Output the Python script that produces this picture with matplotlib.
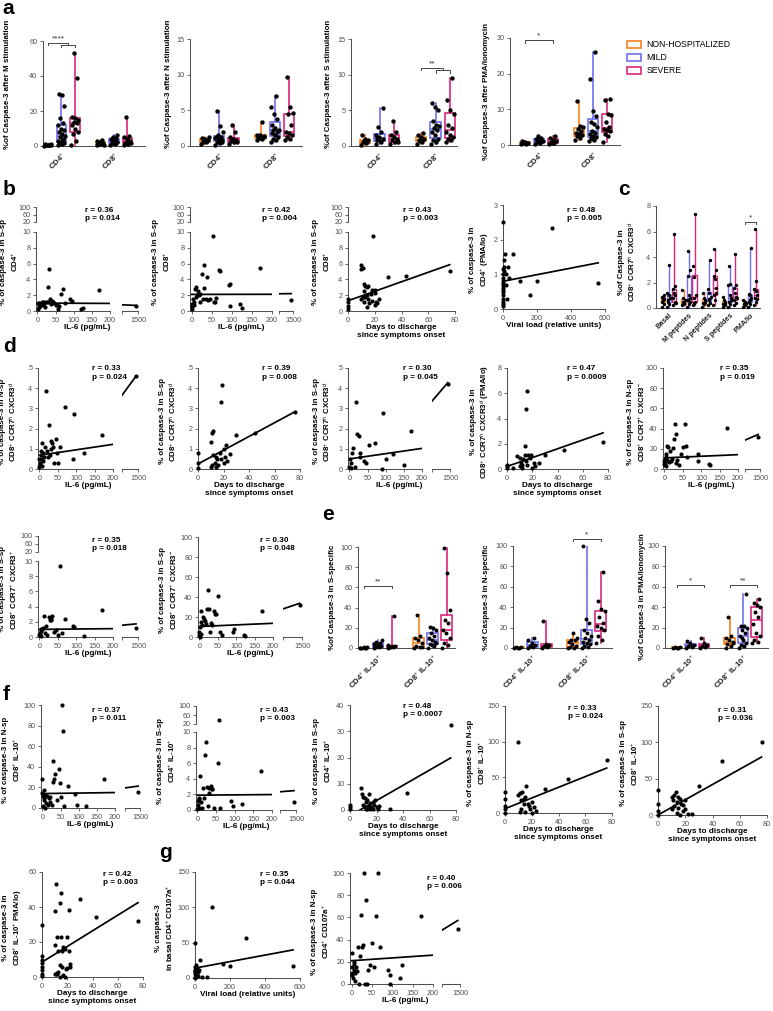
import numpy as np
import matplotlib
matplotlib.use('Agg')
import matplotlib.pyplot as plt
from matplotlib.patches import Patch

plt.rcParams['font.family'] = ['Liberation Sans', 'DejaVu Sans']
plt.rcParams['mathtext.fontset'] = 'custom'
plt.rcParams['mathtext.rm'] = 'Liberation Sans'
plt.rcParams['mathtext.bf'] = 'Liberation Sans:bold'
plt.rcParams['mathtext.it'] = 'Liberation Sans:italic'

W, H = 773, 1011
ORANGE, BLUE, MAGENTA = '#F7821E', '#7070F0', '#D8287A'
COLS = [ORANGE, BLUE, MAGENTA]
AXC = '#505050'
legend_labels = ['NON-HOSPITALIZED', 'MILD', 'SEVERE']

# ---------------- DATA ----------------
a_cats = ['CD4$^{+}$', 'CD8$^{+}$']
# order: CD4 (NH, mild, severe), CD8 (NH, mild, severe)
a1_vals = [[0.2, 0.3, 0.5, 0.6, 0.8, 1.0, 0.4, 0.7, 1.2],
           [0.5, 1, 1.5, 2, 2.5, 3, 4, 5, 6, 7, 8, 9, 10, 12, 13, 16, 23, 29, 30, 3.5, 1.8],
           [0.5, 3, 7, 8, 10, 12, 13, 14, 15, 16, 16.5, 39, 53],
           [0.5, 1, 1.5, 2, 2.5, 3, 3.2, 1.2, 0.8],
           [0.5, 1, 2, 2.5, 3, 4, 4.5, 5, 6.5, 1.5, 3.5, 2],
           [0.5, 1, 2, 3, 4, 5, 5.5, 16.5, 1.5, 3]]
a2_vals = [[0.3, 0.5, 0.6, 0.8, 1.0, 1.1, 0.7, 0.9, 1.2],
           [0.2, 0.4, 0.6, 0.8, 1.0, 1.2, 1.3, 1.5, 2.0, 2.8, 4.9, 0.5, 0.9, 1.1],
           [0.3, 0.5, 0.7, 0.9, 1.0, 1.2, 2.0, 2.9, 0.6, 0.8],
           [0.8, 1.0, 1.2, 1.3, 1.5, 1.6, 3.3, 1.1, 1.4],
           [0.6, 0.9, 1.0, 1.2, 1.5, 1.8, 2.0, 2.2, 2.3, 2.5, 3.0, 3.8, 4.5, 5.5, 7.0],
           [0.9, 1.0, 1.2, 1.5, 1.8, 2.0, 3.0, 4.5, 4.6, 5.5, 9.7]]
a3_vals = [[0.2, 0.4, 0.6, 0.8, 1.0, 1.5, 0.5, 0.7],
           [0.3, 0.5, 0.8, 1.0, 1.2, 1.5, 2.0, 2.6, 5.3, 0.7, 1.1],
           [0.3, 0.5, 0.8, 1.0, 1.3, 1.5, 2.0, 3.5, 0.6],
           [0.3, 0.5, 0.8, 1.0, 1.2, 1.5, 1.8, 0.7],
           [0.3, 0.5, 0.8, 1.0, 1.5, 2.0, 2.2, 2.5, 2.8, 3.0, 3.5, 5.0, 5.5, 6.0],
           [0.5, 0.8, 1.0, 1.2, 1.5, 2.0, 2.5, 3.0, 4.5, 5.0, 6.5, 9.5]]
a4_vals = [[0.2, 0.4, 0.5, 0.7, 0.9, 1.0, 0.6],
           [0.3, 0.5, 0.8, 1.0, 1.3, 1.6, 2.0, 2.5, 1.2],
           [0.3, 0.5, 0.8, 1.0, 1.5, 2.0, 2.4, 0.7],
           [1.5, 2.0, 2.5, 2.8, 3.0, 3.5, 4.0, 4.5, 5.0, 5.2, 12.3],
           [1.0, 1.5, 2.0, 2.2, 2.5, 3.0, 3.5, 4.0, 5.0, 6.0, 6.5, 8.0, 9.5, 18.5, 26.2],
           [0.8, 2.5, 3.0, 4.0, 4.2, 4.5, 5.0, 6.5, 8.5, 8.8, 12.5, 13.0]]

c_cats = ['Basal', 'M peptides', 'N peptides', 'S peptides', 'PMA/Io']
c_vals = [[0.1, 0.3, 0.5, 0.7, 0.8, 0.9, 1.0, 0.6],
          [0.1, 0.3, 0.5, 0.8, 1.0, 1.2, 3.4, 0.6],
          [0.2, 0.5, 0.8, 1.0, 1.2, 1.5, 1.7, 5.8, 0.4],
          [0.2, 0.4, 0.5, 0.6, 0.8, 1.4, 0.3],
          [0.1, 0.3, 0.6, 0.8, 1.0, 2.5, 3.0, 4.5, 0.5],
          [0.2, 0.5, 0.8, 1.0, 2.4, 3.3, 7.4, 0.4],
          [0.1, 0.3, 0.4, 0.5, 0.8, 1.2, 0.6],
          [0.2, 0.4, 0.6, 0.9, 1.2, 1.5, 3.8, 0.7],
          [0.2, 0.6, 1.0, 1.6, 2.3, 2.5, 3.0, 4.6, 1.2],
          [0.1, 0.2, 0.3, 0.4, 0.6, 0.9, 0.5],
          [0.1, 0.3, 0.5, 0.8, 1.0, 1.8, 1.9, 3.3, 0.6],
          [0.2, 0.4, 0.6, 0.9, 1.2, 1.6, 1.8, 4.2, 0.8],
          [0.1, 0.2, 0.3, 0.4, 0.5, 0.6, 0.3],
          [0.1, 0.3, 0.5, 0.8, 1.0, 1.1, 4.7, 0.6],
          [0.2, 0.5, 0.8, 1.0, 1.3, 1.5, 2.1, 6.2, 0.7]]

e_cats = ['CD4$^{+}$ IL-10$^{+}$', 'CD8$^{+}$ IL-10$^{+}$']
e1_vals = [[0, 0, 0.2, 0.5, 1, 0.3, 0],
           [0, 0.5, 1, 2, 3, 4, 5, 6, 8, 2.5, 1.5],
           [0, 0.5, 1, 1.5, 2, 3, 32, 0.8],
           [0, 1, 2, 5, 8, 10, 12, 33, 0.5],
           [0, 2, 4, 5, 8, 10, 12, 15, 18, 20, 21, 6, 3],
           [0, 3, 5, 10, 15, 18, 25, 28, 38, 74, 99]]
e2_vals = [[0, 0.2, 0.5, 1, 0.3],
           [0, 1, 2, 3, 5, 8, 10, 1.5],
           [0, 1, 2, 3, 4, 26, 1.5],
           [0, 0, 1, 2, 4, 6, 8, 8, 10, 15],
           [0, 1, 2, 4, 5, 6, 8, 10, 12, 15, 18, 25, 28, 100],
           [5, 8, 12, 18, 20, 22, 25, 30, 36, 38, 46, 75]]
e3_vals = [[0, 0.2, 0.5, 1, 0.4],
           [0, 1, 2, 3, 5, 7, 2],
           [0, 1, 2, 3, 5, 10, 1.5],
           [0, 2, 4, 6, 8, 10, 12, 30, 5],
           [0, 2, 3, 5, 8, 12, 15, 18, 20, 22, 22, 53, 10],
           [5, 6, 8, 12, 15, 24, 30, 35, 40, 42, 44, 48]]

# scatter panels: x values, y values, fit (intercept, slope), stats
b1_x = [2, 3, 5, 5, 8, 10, 12, 15, 18, 20, 22, 25, 28, 30, 32, 35, 38, 40, 42, 45, 50, 55, 58, 60, 65, 70, 75, 90, 95, 120, 125, 170, 1450, 1, 6, 14]
b1_y = [0.3, 0.5, 0.7, 1.0, 0.6, 0.9, 1.1, 0.8, 1.0, 1.2, 0.5, 1.1, 3.0, 1.2, 5.3, 1.5, 0.9, 1.3, 1.2, 1.0, 0.8, 0.7, 0.3, 0.6, 2.2, 2.8, 1.0, 1.5, 1.3, 0.2, 0.4, 2.7, 0.6, 1.0, 0.9, 1.2]
b1_fit = (1.0, -0.0002); b1_stat = 'r = 0.36\np = 0.014'
b2_x = [0, 2, 3, 5, 8, 10, 12, 15, 18, 20, 22, 25, 28, 30, 32, 35, 38, 40, 45, 52, 55, 58, 60, 68, 70, 92, 95, 95, 120, 125, 170, 1450, 5, 14, 1]
b2_y = [0.3, 0.6, 1.5, 0.8, 2.8, 3.0, 1.8, 2.5, 2.0, 2.2, 1.2, 4.7, 1.5, 5.8, 2.9, 1.5, 4.3, 1.4, 1.5, 9.5, 1.2, 1.1, 1.7, 5.2, 5.1, 3.3, 3.4, 0.6, 0.9, 0.4, 5.4, 1.4, 1.2, 2.0, 0.9]
b2_fit = (2.1, 0.00007); b2_stat = 'r = 0.42\np = 0.004'
b3_x = [0, 0, 0, 0, 10, 10, 11, 10, 11, 12, 12, 13, 14, 14, 15, 15, 16, 17, 18, 18, 19, 20, 20, 21, 22, 23, 12, 14, 30, 43, 76, 20, 13]
b3_y = [0.3, 0.6, 1.2, 1.5, 5.8, 5.3, 5.5, 1.5, 1.8, 3.4, 1.2, 3.2, 0.5, 2.0, 1.5, 3.2, 1.0, 2.2, 2.7, 1.3, 9.5, 2.3, 0.8, 1.2, 1.0, 1.5, 2.5, 3.0, 4.3, 4.4, 5.1, 2.6, 1.8]
b3_fit = (1.3, 0.06); b3_stat = 'r = 0.43\np = 0.003'
b4_x = [0, 0, 0, 0, 0, 0, 0, 0, 0, 0, 2, 3, 5, 5, 0, 10, 15, 20, 25, 30, 35, 60, 100, 160, 200, 290, 560, 0, 2, 1]
b4_y = [0.1, 0.2, 0.3, 0.4, 0.5, 0.6, 0.7, 0.75, 0.8, 0.9, 1.0, 1.2, 1.4, 1.1, 2.5, 1.6, 0.7, 1.0, 0.3, 1.2, 0.9, 1.6, 0.8, 0.4, 0.8, 2.35, 0.75, 0.15, 0.55, 1.15]
b4_fit = (0.8, 0.00095); b4_stat = 'r = 0.48\np = 0.005'

d1_x = [0, 2, 3, 5, 5, 8, 10, 10, 12, 15, 18, 20, 22, 25, 28, 30, 32, 35, 38, 40, 45, 48, 50, 55, 70, 95, 90, 120, 170, 1450, 0, 2, 6]
d1_y = [0.1, 0.3, 0.5, 0.7, 0.9, 1.3, 0.4, 0.8, 0.6, 1.1, 3.85, 0.9, 0.6, 2.2, 0.7, 1.4, 1.0, 1.3, 1.1, 0.3, 1.5, 0.8, 0.3, 1.1, 3.05, 2.7, 0.5, 0.8, 1.7, 4.6, 0.5, 0.2, 0.15]
d1_fit = (0.68, 0.0027); d1_stat = 'r = 0.33\np = 0.024'
d2_x = [0, 0, 0, 10, 10, 11, 12, 13, 14, 15, 16, 17, 18, 19, 20, 20, 21, 22, 23, 25, 30, 45, 76, 11, 14, 18, 12]
d2_y = [0.05, 0.3, 0.8, 0.1, 1.35, 1.8, 1.9, 0.3, 0.6, 0.5, 0.2, 0.8, 3.3, 4.15, 0.3, 1.0, 0.6, 1.2, 0.4, 0.75, 1.7, 1.8, 2.8, 0.2, 0.1, 0.5, 0.7]
d2_fit = (0.25, 0.034); d2_stat = 'r = 0.39\np = 0.008'
d3_x = [0, 2, 5, 8, 10, 15, 18, 20, 25, 28, 30, 40, 45, 55, 70, 93, 120, 150, 170, 1450, 90, 5, 100]
d3_y = [0.1, 0.5, 0.3, 0.8, 1.05, 0.1, 3.3, 1.75, 1.65, 0.8, 0.6, 0.4, 0.3, 1.2, 1.3, 2.75, 0.75, 0.2, 1.9, 4.2, 0.0, 0.05, 0.5]
d3_fit = (0.5, 0.0026); d3_stat = 'r = 0.30\np = 0.045'
d4_x = [0, 0, 0, 5, 8, 10, 10, 11, 12, 13, 14, 15, 15, 16, 17, 18, 19, 14, 20, 21, 22, 25, 30, 45, 76, 12, 16]
d4_y = [0.05, 0.2, 0.3, 0.1, 1.0, 0.2, 0.9, 0.5, 0.3, 0.8, 1.1, 0.6, 4.75, 6.2, 1.1, 0.9, 1.1, 1.85, 0.1, 0.5, 0.2, 0.5, 1.1, 1.5, 2.1, 0.05, 0.3]
d4_fit = (0.2, 0.035); d4_stat = 'r = 0.47\np = 0.0009'
d5_x = [0, 0, 2, 3, 5, 5, 8, 10, 12, 15, 18, 20, 22, 25, 28, 30, 32, 35, 40, 45, 50, 55, 58, 60, 90, 92, 120, 125, 170, 1450, 2, 8, 1]
d5_y = [5, 8, 10, 12, 3, 15, 23, 22, 7, 18, 8, 10, 21, 30, 45, 35, 6, 9, 4, 15, 22, 45, 23, 12, 15, 8, 5, 4, 41, 32, 6, 9, 4]
d5_fit = (11.0, 0.016); d5_stat = 'r = 0.35\np = 0.019'
d6_x = [0, 2, 5, 8, 10, 12, 15, 18, 20, 25, 28, 30, 32, 35, 40, 45, 55, 60, 70, 90, 95, 120, 170, 1450, 5, 3, 50]
d6_y = [0.2, 0.5, 0.8, 1.0, 1.2, 2.7, 0.5, 1.4, 0.3, 2.6, 2.3, 2.2, 2.4, 2.8, 0.6, 0.9, 9.4, 0.5, 2.4, 1.5, 1.3, 0.1, 3.6, 1.2, 0.1, 1.1, 0.2]
d6_fit = (1.0, 0.0005); d6_stat = 'r = 0.35\np = 0.018'
d7_x = [0, 0, 2, 3, 5, 5, 8, 10, 12, 15, 18, 20, 22, 25, 28, 30, 35, 40, 42, 45, 50, 55, 60, 90, 95, 120, 125, 170, 1450, 1]
d7_y = [2, 5, 10, 15, 26, 3, 12, 20, 18, 16, 13, 28, 47, 28, 5, 14, 12, 26, 23, 23, 41, 5, 2, 5, 8, 2, 1, 26, 32, 0]
d7_fit = (10.5, 0.016); d7_stat = 'r = 0.30\np = 0.048'

f1_x = [0, 0, 2, 3, 5, 5, 8, 10, 12, 15, 18, 20, 22, 25, 28, 30, 32, 35, 40, 45, 48, 50, 55, 58, 60, 70, 90, 95, 120, 170, 1450, 2, 6]
f1_y = [28, 15, 12, 10, 17, 8, 13, 5, 12, 3, 10, 11, 6, 3, 46, 25, 28, 33, 8, 38, 24, 11, 100, 75, 2, 21, 14, 3, 2, 28, 16, 2, 0]
f1_fit = (14.0, 0.005); f1_stat = 'r = 0.37\np = 0.011'
f2_x = [0, 2, 3, 5, 8, 10, 12, 15, 18, 20, 22, 25, 28, 30, 32, 35, 38, 40, 45, 55, 58, 60, 90, 95, 120, 170, 1450, 1, 5]
f2_y = [0.1, 1.2, 1.5, 1.4, 4.4, 1.0, 0.3, 2.8, 1.6, 7.0, 8.7, 2.9, 0.5, 2.2, 2.8, 3.1, 2.7, 2.7, 0.3, 6.0, 40, 0.2, 1.2, 0.5, 0.8, 5.0, 1.0, 0.6, 0.2]
f2_fit = (1.9, 0.0004); f2_stat = 'r = 0.43\np = 0.003'
f3_x = [0, 0, 0, 8, 9, 10, 10, 11, 12, 12, 13, 14, 15, 15, 16, 17, 18, 19, 20, 21, 22, 13, 17, 30, 43, 76, 14, 11]
f3_y = [0.5, 1, 2, 8.5, 6, 5, 2, 1, 0.5, 3, 4, 1.5, 2.5, 0.3, 1, 3, 2, 4, 1, 0.5, 1.5, 0.2, 0.5, 0.5, 6.5, 32.5, 6, 4.5]
f3_fit = (-2.2, 0.29); f3_stat = 'r = 0.48\np = 0.0007'
f4_x = [0, 0, 0, 0, 0, 10, 11, 12, 13, 14, 15, 16, 18, 19, 20, 22, 10, 30, 47, 76, 12, 15, 17, 20, 23, 14, 11]
f4_y = [0, 5, 10, 20, 30, 25, 28, 18, 30, 20, 22, 38, 10, 5, 15, 8, 100, 33, 47, 75, 5, 2, 12, 0, 3, 12, 2]
f4_fit = (6.0, 0.75); f4_stat = 'r = 0.33\np = 0.024'
f5_x = [0, 0, 0, 0, 10, 11, 12, 13, 14, 15, 16, 17, 18, 20, 22, 25, 30, 47, 76, 12, 14, 16, 18, 20, 10, 15]
f5_y = [35, 5, 15, 0, 25, 20, 28, 32, 18, 10, 22, 15, 5, 8, 2, 1, 40, 75, 100, 12, 3, 0, 14, 20, 8, 25]
f5_fit = (0.0, 1.05); f5_stat = 'r = 0.31\np = 0.036'
f6_x = [0, 0, 0, 0, 0, 0, 0, 0, 10, 10, 11, 11, 12, 12, 13, 13, 14, 14, 15, 15, 16, 16, 17, 17, 18, 18, 19, 20, 20, 21, 21, 22, 22, 30, 43, 76, 12, 14, 10]
f6_y = [29.5, 12, 10, 8, 6, 4, 2, 0.5, 37.5, 18.5, 53, 2, 1.5, 23, 3, 15, 42.5, 7, 48, 23, 6, 15, 17, 1, 0, 16, 4.5, 23, 5, 38.5, 15, 6, 7.5, 44.5, 34.5, 32, 2.5, 0.2, 1.5]
f6_fit = (8.5, 0.447); f6_stat = 'r = 0.42\np = 0.003'

g1_x = [0, 0, 0, 0, 0, 0, 2, 5, 8, 10, 15, 20, 25, 30, 40, 70, 100, 160, 200, 290, 560, 0, 3, 12]
g1_y = [50, 15, 10, 5, 8, 2, 12, 18, 6, 10, 8, 3, 12, 25, 2, 2, 100, 20, 17, 56, 17, 0, 7, 14]
g1_fit = (14.0, 0.046); g1_stat = 'r = 0.35\np = 0.044'
g2_x = [0, 0, 0, 2, 3, 5, 5, 8, 10, 12, 15, 18, 20, 22, 25, 28, 30, 32, 35, 38, 40, 45, 50, 55, 60, 65, 70, 90, 95, 95, 120, 125, 170, 1450, 5, 8]
g2_y = [28, 15, 10, 8, 5, 13, 20, 3, 15, 12, 33, 0, 25, 62, 33, 35, 100, 0, 76, 0, 13, 17, 37, 15, 61, 100, 33, 13, 8, 0, 5, 17, 61, 50, 18, 10]
g2_fit = (21.0, 0.025); g2_stat = 'r = 0.40\np = 0.006'

XL_IL6 = 'IL-6 (pg/mL)'
XL_DAYS = 'Days to discharge\nsince symptoms onset'
XL_VL = 'Viral load (relative units)'

# ---------------- HELPERS ----------------
fig = plt.figure(figsize=(W / 100, H / 100), dpi=100)


def add_ax(l, t, r, b):
    return fig.add_axes([l / W, 1 - b / H, (r - l) / W, (b - t) / H])


def style(ax, left=True, bottom=True):
    for s in ['top', 'right']:
        ax.spines[s].set_visible(False)
    ax.spines['left'].set_visible(left)
    ax.spines['bottom'].set_visible(bottom)
    for s in ['left', 'bottom']:
        ax.spines[s].set_color(AXC)
        ax.spines[s].set_linewidth(0.75)
    ax.tick_params(direction='out', length=2.5, width=0.6, colors=AXC,
                   labelsize=5.2, pad=1.5)
    ax.patch.set_alpha(0)
    if not left:
        ax.tick_params(axis='y', left=False, labelleft=False)
    if not bottom:
        ax.tick_params(axis='x', bottom=False, labelbottom=False)


def ftext(x, y, s, **kw):
    return fig.text(x / W, 1 - y / H, s, **kw)


def box_panel(l, t, r, b, data, positions, xlim, ylim, yticks, cats, catpos,
              ylabel, ylab, width=0.72, sigs=(), dot=10, lw=1.2, catsize=5.6):
    ax = add_ax(l, t, r, b)
    style(ax)
    ax.set_xlim(*xlim)
    ax.set_ylim(*ylim)
    ax.set_yticks(yticks)
    for k, (vals, pos) in enumerate(zip(data, positions)):
        col = COLS[k % 3]
        vals = np.asarray(vals, float)
        ax.boxplot([vals], positions=[pos], widths=width, whis=(0, 100),
                   showfliers=False, patch_artist=True, manage_ticks=False,
                   boxprops=dict(facecolor='white', edgecolor=col, linewidth=lw),
                   medianprops=dict(color=col, linewidth=lw),
                   whiskerprops=dict(color=col, linewidth=lw),
                   capprops=dict(linewidth=0), zorder=2)
        n = len(vals)
        off = ((np.arange(n) * 0.618034) % 1.0 - 0.5) * width * 0.8
        ax.scatter(pos + off, vals, s=dot, c='k', linewidths=0, zorder=4, clip_on=False)
    ax.set_xticks(catpos)
    ax.set_xticklabels(cats, rotation=45, ha='right', rotation_mode='anchor',
                       fontsize=catsize, fontweight='bold', color='#222')
    ax.tick_params(axis='x', length=0, pad=3)
    dy = (ylim[1] - ylim[0]) * 0.02
    for (x1, x2, y, txt) in sigs:
        ax.plot([x1, x1, x2, x2], [y - dy, y, y, y - dy], color='#444', lw=0.7, clip_on=False)
        if txt:
            ax.text((x1 + x2) / 2, y + dy * 0.3, txt, ha='center', va='bottom',
                    fontsize=6, color='#333')
    ftext(ylab[0], ylab[1], ylabel, rotation=90, ha='center', va='center',
          fontsize=5.7, fontweight='bold', multialignment='center')
    return ax


def il6_x(l, mid, rl, rr):
    return [(l, mid, -4, 200, [0, 50, 100, 150, 200], ['0', '50', '100', '150', '200']),
            (rl, rr, 1100, 1500, [1100, 1500], ['', '1500'])]


def days_x(l, r):
    return [(l, r, 0, 80, [0, 20, 40, 60, 80], ['0', '20', '40', '60', '80'])]


def vl_x(l, r):
    return [(l, r, 0, 600, [0, 200, 400, 600], ['0', '200', '400', '600'])]


def ylin(b, t, top, step):
    tk = np.arange(0, top + step / 2, step)
    return [(b, t, 0, top, tk, ['%g' % v for v in tk])]


def ybrk(b, lo_top, up_bot, t):
    return [(b, lo_top, 0, 10, [0, 2, 4, 6, 8, 10], ['0', '2', '4', '6', '8', '10']),
            (up_bot, t, 20, 100, [20, 60, 100], ['20', '60', '100'])]


def scatter_panel(xsegs, ysegs, xs, ys, fit, stat, stat_xy, xlabel, ylabel, ylab_off):
    xs = np.asarray(xs, float)
    ys = np.asarray(ys, float)
    for i, (pb, pt, ylo, yhi, yt, ytl) in enumerate(ysegs):
        for j, (pl, pr, xlo, xhi, xt, xtl) in enumerate(xsegs):
            ax = add_ax(pl, pt, pr, pb)
            style(ax, left=(j == 0), bottom=(i == 0))
            ax.set_xlim(xlo, xhi)
            ax.set_ylim(ylo, yhi)
            if j == 0:
                ax.set_yticks(yt, ytl)
            else:
                ax.set_yticks([])
            if i == 0:
                ax.set_xticks(xt, xtl)
            else:
                ax.set_xticks([])
            m = (xs >= xlo) & (xs <= xhi) & (ys >= ylo) & (ys <= yhi)
            ax.scatter(xs[m], ys[m], s=9, c='k', linewidths=0, zorder=4, clip_on=False)
            x0 = max(xlo, xs.min())
            x1 = min(xhi, xs.max())
            if x1 > x0:
                xx = np.array([x0, x1])
                ax.plot(xx, fit[0] + fit[1] * xx, color='k', lw=1.25, zorder=3)
    left = xsegs[0][0]
    right = xsegs[-1][1]
    bottom = ysegs[0][0]
    top = ysegs[-1][1]
    ftext((left + right) / 2, bottom + 13, xlabel, ha='center', va='top',
          fontsize=5.9, fontweight='bold', multialignment='center', linespacing=1.25)
    ftext(left + ylab_off, (top + bottom) / 2 + 3, ylabel, rotation=90, ha='center',
          va='center', fontsize=5.7, fontweight='bold', multialignment='center',
          linespacing=1.3)
    ftext(stat_xy[0], stat_xy[1], stat, ha='left', va='top', fontsize=5.9,
          fontweight='bold', linespacing=1.3)


# ---------------- PANEL a ----------------
pos_a = [0, 1, 2, 3.9, 4.9, 5.9]
box_panel(43, 41, 145, 146, a1_vals, pos_a, (-0.37, 7.2), (0, 60), [0, 20, 40, 60],
          a_cats, [1, 4.9], '%of Caspase-3 after M stimulation', (8, 84),
          sigs=[(0, 1.5, 59, '****'), (1, 2, 57.5, '')])
box_panel(190, 39, 302, 146, a2_vals, pos_a, (-1.05, 6.8), (0, 15), [0, 5, 10, 15],
          a_cats, [1, 4.9], '%of Caspase-3 after N stimulation', (168, 84))
box_panel(351, 39, 457, 146, a3_vals, pos_a, (-1.0, 6.4), (0, 15), [0, 5, 10, 15],
          a_cats, [1, 4.9], '%of Caspase-3 after S stimulation', (329, 84),
          sigs=[(3.9, 5.4, 10.9, '**'), (4.9, 5.9, 10.6, '')])
box_panel(510, 38, 620, 145, a4_vals, pos_a, (-1.07, 6.8), (0, 30), [0, 10, 20, 30],
          a_cats, [1, 4.9], '%of Caspase-3 after PMA/Ionomycin', (487, 92),
          sigs=[(0, 2, 29.3, '*')])
fig.legend(handles=[Patch(facecolor='white', edgecolor=c, linewidth=1.2, label=l)
                    for c, l in zip(COLS, legend_labels)],
           loc='upper left', bbox_to_anchor=(624 / W, 1 - 37 / H), frameon=False,
           fontsize=6.2, handlelength=1.6, handleheight=0.9, labelspacing=0.45,
           handletextpad=0.6, borderaxespad=0)

# ---------------- PANEL b ----------------
scatter_panel(il6_x(36, 110, 122, 138), ybrk(311, 232, 222, 207), b1_x, b1_y, b1_fit,
              b1_stat, (85, 207), XL_IL6, '% of caspase-3 in S-sp\nCD4$^{+}$', -26)
scatter_panel(il6_x(190, 272, 279, 293), ybrk(311, 232, 222, 207), b2_x, b2_y, b2_fit,
              b2_stat, (262, 207), XL_IL6, '% of caspase-3 in S-sp\nCD8$^{+}$', -28)
scatter_panel(days_x(348, 455), ybrk(311, 232, 222, 207), b3_x, b3_y, b3_fit,
              b3_stat, (403, 207), XL_DAYS, '% of caspase-3 in S-sp\nCD8$^{+}$', -26)
scatter_panel(vl_x(503, 605), ylin(309, 205, 3, 1), b4_x, b4_y, b4_fit,
              b4_stat, (567, 207), XL_VL, '% of caspase-3 in\nCD4$^{+}$ (PMA/Io)', -23)

# ---------------- PANEL c ----------------
pos_c = [g * 3.7 + k for g in range(5) for k in range(3)]
box_panel(656, 206, 760, 308, c_vals, pos_c, (-1.3, 17.6), (0, 8), [0, 2, 4, 6, 8],
          c_cats, [g * 3.7 + 1 for g in range(5)],
          '%of Caspase-3 in\nCD8$^{+}$ CCR7$^{h}$ CXCR3$^{d}$', (628, 262),
          width=0.75, dot=6, lw=1.0, catsize=5.2,
          sigs=[(14.8, 16.8, 6.75, '*')])

# ---------------- PANEL d ----------------
scatter_panel(il6_x(38, 113, 122, 138), ylin(469, 368, 5, 1), d1_x, d1_y, d1_fit,
              d1_stat, (92, 365), XL_IL6,
              '% of caspase-3 in N-sp\nCD8$^{+}$ CCR7$^{h}$ CXCR3$^{d}$', -29)
scatter_panel(days_x(198, 300), ylin(469, 368, 5, 1), d2_x, d2_y, d2_fit,
              d2_stat, (262, 365), XL_DAYS,
              '% of caspase-3 in S-sp\nCD8$^{+}$ CCR7$^{h}$ CXCR3$^{d}$', -29)
scatter_panel(il6_x(348, 422, 432, 450), ylin(469, 368, 5, 1), d3_x, d3_y, d3_fit,
              d3_stat, (403, 365), XL_IL6,
              '% of caspase-3 in S-sp\nCD8$^{+}$ CCR7$^{h}$ CXCR3$^{d}$', -25)
scatter_panel(days_x(507, 608), ylin(469, 368, 8, 2), d4_x, d4_y, d4_fit,
              d4_stat, (567, 365), XL_DAYS,
              '% of caspase-3 in\nCD8$^{+}$ CCR7$^{h}$ CXCR3$^{d}$ (PMA/Io)', -26)
scatter_panel(il6_x(663, 738, 745, 760), ylin(469, 368, 100, 20), d5_x, d5_y, d5_fit,
              d5_stat, (720, 365), XL_IL6,
              '% of caspase-3 in N-sp\nCD8$^{+}$ CCR7$^{+}$ CXCR3$^{-}$', -26)
scatter_panel(il6_x(38, 113, 122, 138), ybrk(637, 561, 552, 536), d6_x, d6_y, d6_fit,
              d6_stat, (92, 537), XL_IL6,
              '% of caspase-3 in S-sp\nCD8$^{+}$ CCR7$^{+}$ CXCR3$^{+}$', -29)
scatter_panel(il6_x(198, 273, 283, 302), ylin(637, 537, 100, 20), d7_x, d7_y, d7_fit,
              d7_stat, (260, 537), XL_IL6,
              '% of caspase-3 in S-sp\nCD8$^{+}$ CCR7$^{+}$ CXCR3$^{-}$', -29)

# ---------------- PANEL e ----------------
box_panel(358, 547, 455, 648, e1_vals, pos_a, (-0.43, 6.5), (0, 100), [0, 20, 40, 60, 80, 100],
          e_cats, [1, 4.9], '%of Caspase-3 in S-specific', (333, 597),
          width=0.78, dot=8, sigs=[(0, 2, 61.5, '**')])
box_panel(513, 546, 612, 648, e2_vals, pos_a, (-0.36, 6.7), (0, 100), [0, 20, 40, 60, 80, 100],
          e_cats, [1, 4.9], '%of Caspase-3 in N-specific', (487, 597),
          width=0.78, dot=8, sigs=[(3.9, 5.9, 107, '*')])
box_panel(665, 546, 768, 648, e3_vals, pos_a, (-0.9, 6.74), (0, 100), [0, 20, 40, 60, 80, 100],
          e_cats, [1, 4.9], '%of Caspase-3 in PMA/Ionomycin', (642, 597),
          width=0.78, dot=8, sigs=[(0, 2, 61.5, '*'), (3.9, 5.9, 61.5, '**')])

# ---------------- PANEL f ----------------
scatter_panel(il6_x(41, 115, 125, 140), ylin(808, 705, 100, 20), f1_x, f1_y, f1_fit,
              f1_stat, (92, 707), XL_IL6, '% of caspase-3 in N-sp\nCD8$^{+}$ IL-10$^{+}$', -29)
scatter_panel(il6_x(196, 272, 280, 296), ybrk(810, 732, 724, 706), f2_x, f2_y, f2_fit,
              f2_stat, (260, 707), XL_IL6, '% of caspase-3 in S-sp\nCD4$^{+}$ IL-10$^{+}$', -29)
scatter_panel(days_x(350, 456), ylin(810, 705, 40, 10), f3_x, f3_y, f3_fit,
              f3_stat, (403, 703), XL_DAYS, '% of caspase-3 in S-sp\nCD4$^{+}$ IL-10$^{+}$', -27)
scatter_panel(days_x(505, 612), ylin(813, 706, 150, 50), f4_x, f4_y, f4_fit,
              f4_stat, (568, 705), XL_DAYS, '% of caspase-3 in N-sp\nCD8$^{+}$ IL-10$^{+}$', -28)
scatter_panel(days_x(658, 767), ylin(815, 706, 150, 50), f5_x, f5_y, f5_fit,
              f5_stat, (718, 707), XL_DAYS, '% of caspase-3 in S-sp\nCD8$^{+}$ IL-10$^{+}$', -28)
scatter_panel(days_x(42, 143), ylin(977, 872, 60, 20), f6_x, f6_y, f6_fit,
              f6_stat, (103, 871), XL_DAYS,
              '% of caspase-3 in\nCD8$^{+}$ IL-10$^{+}$ PMA/Io)', -29)

# ---------------- PANEL g ----------------
scatter_panel(vl_x(195, 300), ylin(978, 872, 150, 50), g1_x, g1_y, g1_fit,
              g1_stat, (260, 871), XL_VL, '% caspase-3\nin basal CD4$^{+}$ CD107a$^{+}$', -30)
scatter_panel(il6_x(350, 433, 442, 460), ylin(984, 873, 100, 20), g2_x, g2_y, g2_fit,
              g2_stat, (427, 875), XL_IL6, '% of caspase-3 in N-sp\nCD4$^{+}$ CD107a$^{+}$', -29)

# ---------------- panel letters ----------------
for letter, x, y in [('a', 2, 14), ('b', 3, 195), ('c', 618, 195), ('d', 3, 352),
                     ('e', 322, 520), ('f', 3, 700), ('g', 159, 858)]:
    ftext(x, y, letter, fontsize=15, fontweight='bold', ha='left', va='baseline')

fig.savefig('out.png', dpi=100)
